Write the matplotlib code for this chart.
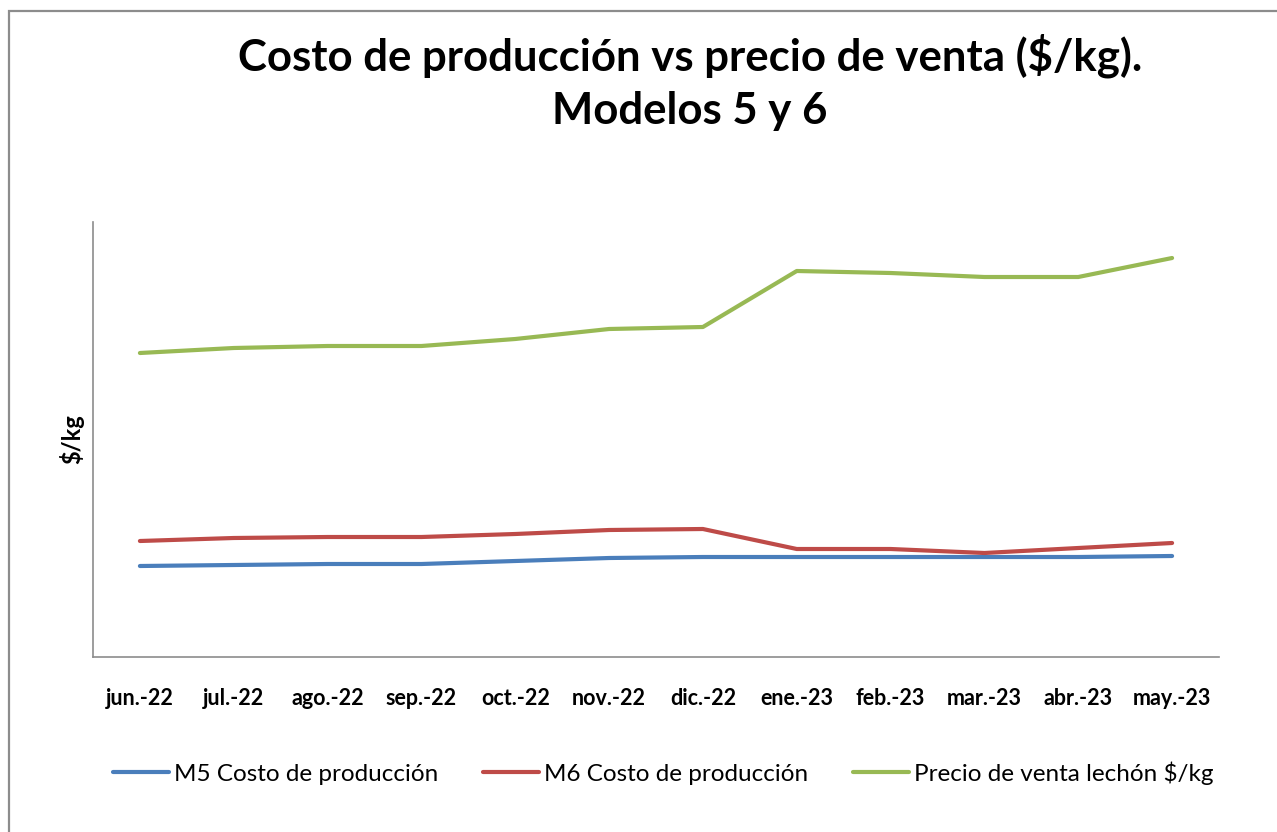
import matplotlib.pyplot as plt
from matplotlib.patches import Rectangle

plt.rcParams['font.family'] = ['Lato', 'DejaVu Sans']

months = ['jun.-22', 'jul.-22', 'ago.-22', 'sep.-22', 'oct.-22', 'nov.-22',
          'dic.-22', 'ene.-23', 'feb.-23', 'mar.-23', 'abr.-23', 'may.-23']

# valores (sin escala en el eje y)
m5_costo = [91, 92, 93, 93, 96, 99, 100, 100, 100, 100, 100, 101]
m6_costo = [116, 119, 120, 120, 123, 127, 128, 108, 108, 104, 109, 114]
precio_venta = [304, 309, 311, 311, 318, 328, 330, 386, 384, 380, 380, 399]

W, H = 1277, 832
fig = plt.figure(figsize=(W / 100, H / 100), dpi=100)

# marco exterior
fig.patches.append(Rectangle((9 / W, -0.1), 1.2, 1 - 11 / H + 0.1, transform=fig.transFigure,
                             fill=False, edgecolor='#8c8c8c', linewidth=1.6))

ax = fig.add_axes([93 / W, 1 - 657 / H, (1219 - 93) / W, (657 - 222) / H])
x = range(len(months))
ax.plot(x, m5_costo, color='#4a7ebb', lw=3, solid_capstyle='round', label='M5 Costo de producción')
ax.plot(x, m6_costo, color='#be4b48', lw=3, solid_capstyle='round', label='M6 Costo de producción')
ax.plot(x, precio_venta, color='#98b954', lw=3, solid_capstyle='round', label='Precio de venta lechón $/kg')

ax.set_xlim(-0.5, len(months) - 0.5)
ax.set_ylim(0, 435)
ax.set_xticks(list(x))
ax.set_xticklabels(months, fontsize=15.5, fontweight='bold')
ax.tick_params(axis='x', length=0, pad=22)
ax.set_yticks([])
for s in ['top', 'right']:
    ax.spines[s].set_visible(False)
for s in ['left', 'bottom']:
    ax.spines[s].set_color('#8c8c8c')
    ax.spines[s].set_linewidth(1.2)
ax.set_ylabel('$/kg', fontsize=17, fontweight='bold', labelpad=6)

fig.text(690 / W, 1 - 56 / H, 'Costo de producción vs precio de venta ($/kg).',
         ha='center', va='center', fontsize=31.5, fontweight='bold')
fig.text(690 / W, 1 - 111 / H, 'Modelos 5 y 6',
         ha='center', va='center', fontsize=31.5, fontweight='bold')

fig.legend(loc='center', bbox_to_anchor=(663 / W, 1 - 773 / H), ncol=3, frameon=False,
           fontsize=17.5, handlelength=2.3, handletextpad=0.2, columnspacing=1.85)

fig.savefig('out.png', dpi=100)
